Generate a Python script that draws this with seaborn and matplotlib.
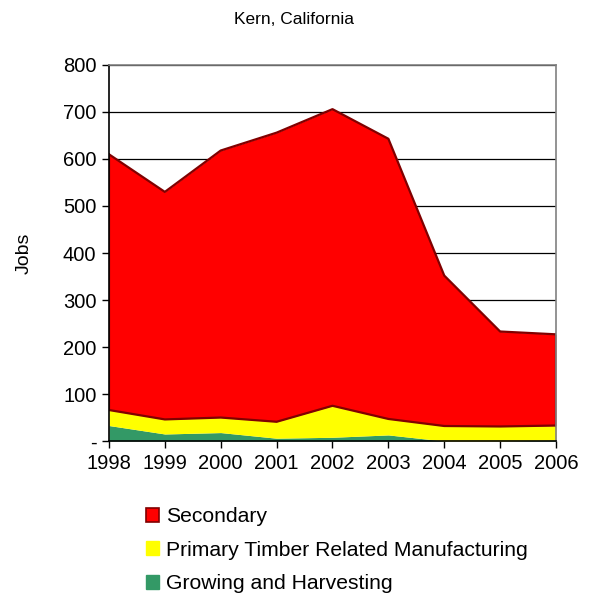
import pandas as pd
import matplotlib
matplotlib.use('Agg')
import matplotlib.pyplot as plt
from matplotlib.patches import Patch
import seaborn as sns

sns.set_style('white')
plt.rcParams['font.family'] = ['Liberation Sans', 'DejaVu Sans']
plt.rcParams['text.color'] = 'black'
plt.rcParams['xtick.color'] = 'black'
plt.rcParams['ytick.color'] = 'black'
plt.rcParams['axes.labelcolor'] = 'black'

# ── Data (jobs, Kern County) ──────────────────────────────────
years     = [1998, 1999, 2000, 2001, 2002, 2003, 2004, 2005, 2006]
growing   = [33, 15, 18, 6, 8, 13, 0, 0, 2]
primary   = [33, 31, 32, 35, 67, 34, 32, 31, 31]
secondary = [544, 484, 568, 615, 631, 596, 320, 202, 194]

df = pd.DataFrame({'year': years, 'Growing and Harvesting': growing,
                   'Primary Timber Related Manufacturing': primary,
                   'Secondary': secondary})
df['top'] = df[['Growing and Harvesting', 'Primary Timber Related Manufacturing',
                'Secondary']].sum(axis=1)
df['base'] = df['top'] - df['Secondary']

colors = ['#339966', '#ffff00', '#ff0000']

fig = plt.figure(figsize=(5.89, 5.96), dpi=100)
ax = fig.add_axes([0.185, 0.260, 0.759, 0.631])

ax.stackplot(df['year'], df['Growing and Harvesting'],
             df['Primary Timber Related Manufacturing'], df['Secondary'],
             colors=colors, linewidth=0, zorder=2)
# dark red outline of the secondary band
sns.lineplot(x=df['year'], y=df['top'], color='#800000', lw=1.6, zorder=3, ax=ax)
sns.lineplot(x=df['year'], y=df['base'], color='#800000', lw=1.6, zorder=3, ax=ax)
for i in [0, len(years) - 1]:
    ax.plot([years[i], years[i]], [df['base'].iloc[i], df['top'].iloc[i]],
            color='#800000', lw=1.6, zorder=3)

ax.set_xlim(1998, 2006)
ax.set_ylim(0, 800)
ax.set_yticks(range(0, 801, 100))
ax.set_yticklabels(['-'] + [str(v) for v in range(100, 801, 100)])
ax.set_xticks(years)
ax.set_xticklabels([str(y) for y in years])
ax.set_xlabel('')
ax.yaxis.grid(True, color='black', lw=0.9, zorder=1)
ax.set_axisbelow(True)
for s in ['top', 'right']:
    ax.spines[s].set_color('#808080')
for s in ['left', 'bottom']:
    ax.spines[s].set_color('black')
for s in ax.spines.values():
    s.set_linewidth(1.2)
    s.set_zorder(4)
ax.tick_params(axis='both', which='both', direction='out', length=5, width=1,
               color='black', labelsize=14.5, bottom=True, left=True, pad=4)
ax.set_ylabel('Jobs', fontsize=14)
ax.yaxis.set_label_coords(-0.17, 0.5)
fig.text(0.5, 0.968, 'Kern, California', ha='center', va='center', fontsize=12.5)

handles = [Patch(facecolor='#ff0000', edgecolor='#800000', lw=1.2),
           Patch(facecolor='#ffff00', edgecolor='#ffff00'),
           Patch(facecolor='#339966', edgecolor='#339966')]
labels = ['Secondary', 'Primary Timber Related Manufacturing',
          'Growing and Harvesting']
fig.legend(handles, labels, loc='upper left', bbox_to_anchor=(0.233, 0.163),
           frameon=False, fontsize=15.2, handlelength=0.65, handleheight=0.65,
           handletextpad=0.3, labelspacing=0.68, borderaxespad=0)

fig.savefig('out.png', dpi=100)
